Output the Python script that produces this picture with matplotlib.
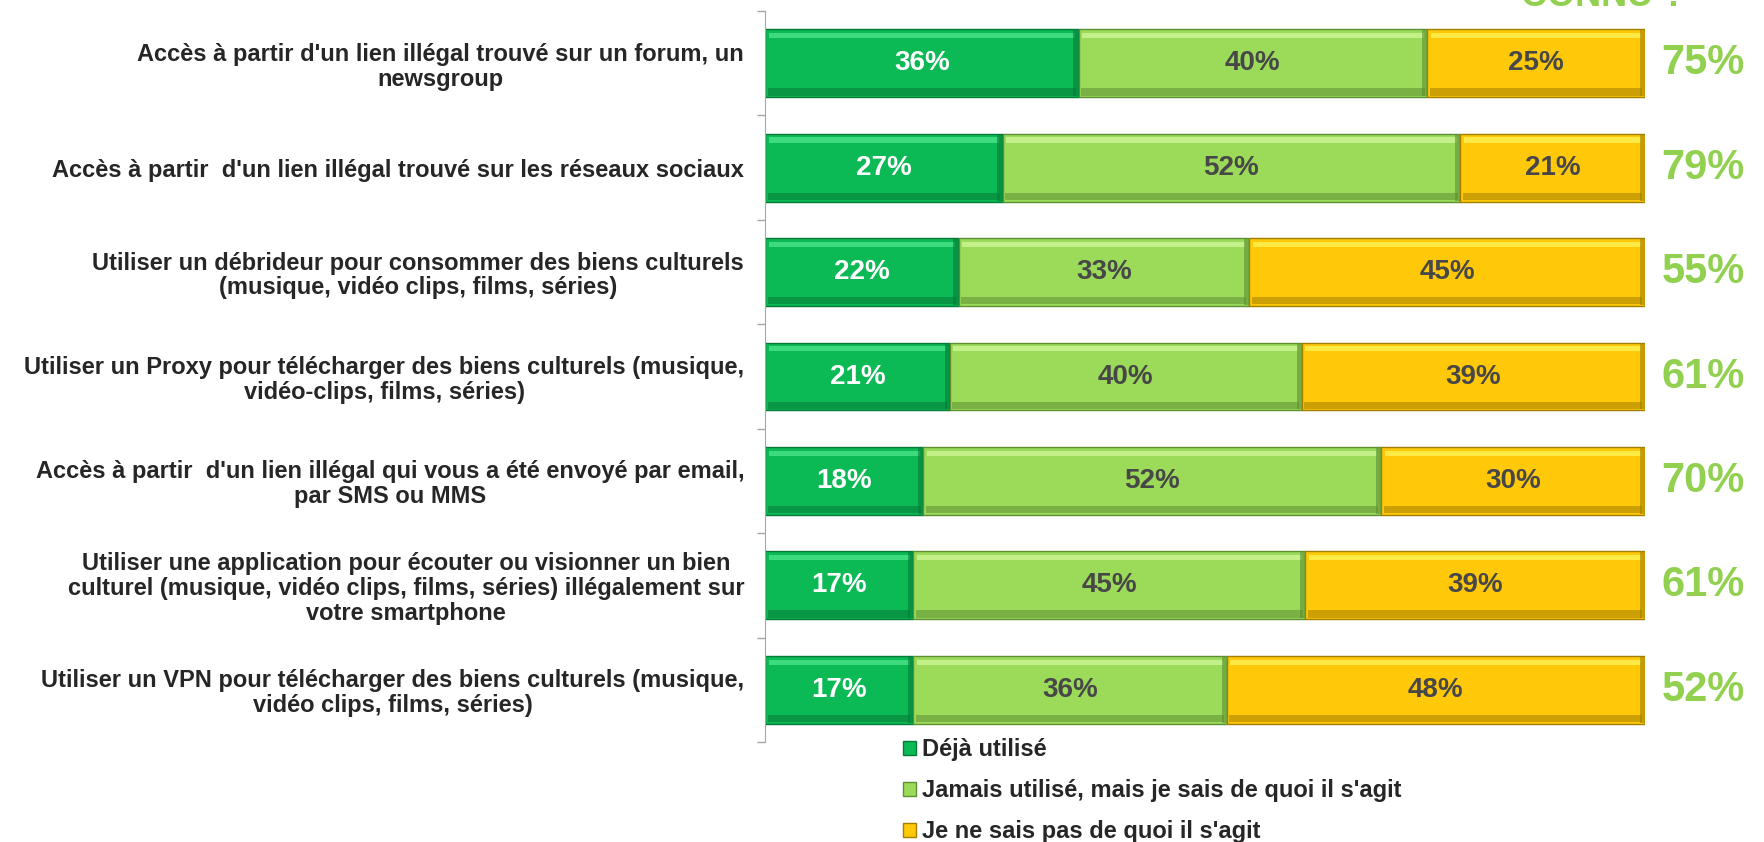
import numpy as np
import matplotlib.pyplot as plt
from matplotlib.patches import Patch

plt.rcParams['font.family'] = ['Liberation Sans', 'DejaVu Sans']
plt.rcParams['font.weight'] = 'bold'

# ---- data ----
categories = [
    "Accès à partir d'un lien illégal trouvé sur un forum, un\nnewsgroup",
    "Accès à partir  d'un lien illégal trouvé sur les réseaux sociaux",
    "Utiliser un débrideur pour consommer des biens culturels\n(musique, vidéo clips, films, séries)",
    "Utiliser un Proxy pour télécharger des biens culturels (musique,\nvidéo-clips, films, séries)",
    "Accès à partir  d'un lien illégal qui vous a été envoyé par email,\npar SMS ou MMS",
    "Utiliser une application pour écouter ou visionner un bien\nculturel (musique, vidéo clips, films, séries) illégalement sur\nvotre smartphone",
    "Utiliser un VPN pour télécharger des biens culturels (musique,\nvidéo clips, films, séries)",
]
deja = [36, 27, 22, 21, 18, 17, 17]
jamais = [40, 52, 33, 40, 52, 45, 36]
nesaispas = [25, 21, 45, 39, 30, 39, 48]
connu = [75, 79, 55, 61, 70, 61, 52]

series_names = ["Déjà utilisé",
                "Jamais utilisé, mais je sais de quoi il s'agit",
                "Je ne sais pas de quoi il s'agit"]
colors = ['#0BB955', '#9CDB5A', '#FFC90A']
dark = ['#067A38', '#5E8F33', '#A37E00']
light = ['#3DDB7E', '#C4F08A', '#FFEA45']
text_colors = ['white', '#474747', '#474747']

# ---- figure ----
fig = plt.figure(figsize=(17.64, 8.42), dpi=100)
ax = fig.add_axes([765 / 1764, 1 - 742 / 842, 880 / 1764, 731 / 842])

vals = np.array([deja, jamais, nesaispas], dtype=float)
widths = vals / vals.sum(axis=0) * 100
y = np.arange(len(categories))
h = 0.65
left = np.zeros(len(categories))

for k in range(3):
    w = widths[k]
    ax.barh(y, w, left=left, height=h, color=colors[k], edgecolor=dark[k],
            linewidth=1.0, zorder=2)
    # bevel: highlight on top, shade at bottom and right end
    ax.barh(y - h / 2 + 0.06, w - 0.8, left=left + 0.4, height=0.05,
            color=light[k], linewidth=0, zorder=3)
    ax.barh(y + h / 2 - 0.05, w - 0.6, left=left + 0.3, height=0.07,
            color=dark[k], alpha=0.55, linewidth=0, zorder=3)
    ax.barh(y, 0.6, left=left + w - 0.6, height=h - 0.02,
            color=dark[k], alpha=0.6, linewidth=0, zorder=3)
    for i in range(len(categories)):
        ax.text(left[i] + w[i] / 2, y[i], f"{int(vals[k][i])}%",
                ha='center', va='center', fontsize=20, fontweight='bold',
                color=text_colors[k], zorder=4)
    left = left + w

for i in range(len(categories)):
    ax.text(106.6, y[i], f"{connu[i]}%", ha='center', va='center',
            fontsize=30, fontweight='bold', color='#92D050', clip_on=False)

# title is cut by the top edge in the original
fig.text(1603 / 1764, 1 - 6 / 842, "CONNU ?", ha='center', va='baseline',
         fontsize=26, fontweight='bold', color='#92D050')

ax.set_xlim(0, 100)
ax.set_ylim(len(categories) - 0.5, -0.5)
ax.set_yticks(y)
ax.set_yticklabels(categories, fontsize=17, fontweight='bold', color='#262626',
                   multialignment='center', linespacing=1.1)
ax.set_yticks(np.arange(len(categories) + 1) - 0.5, minor=True)
ax.tick_params(axis='y', which='major', length=0, pad=15)
ax.tick_params(axis='y', which='minor', length=6, color='#A6A6A6', width=1)
ax.set_xticks([])
for s in ['top', 'right', 'bottom']:
    ax.spines[s].set_visible(False)
ax.spines['left'].set_color('#A6A6A6')

handles = [Patch(facecolor=colors[k], edgecolor=dark[k]) for k in range(3)]
fig.legend(handles, series_names, loc='upper left',
           bbox_to_anchor=(903 / 1764, 1 - 738 / 842), frameon=False,
           prop={'size': 17, 'weight': 'bold'}, labelcolor='#262626',
           handlelength=0.55, handleheight=0.55, handletextpad=0.25,
           labelspacing=0.77, borderaxespad=0, borderpad=0)

fig.savefig('out.png', dpi=100)
